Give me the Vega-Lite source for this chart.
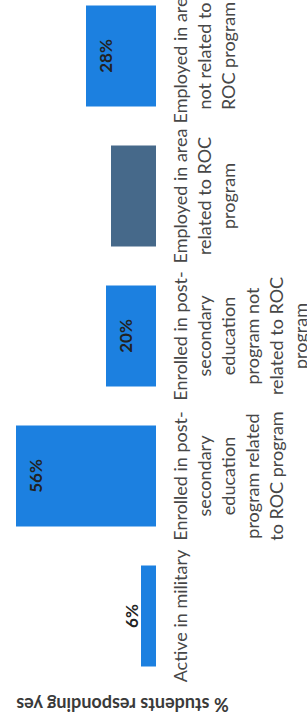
{
  "$schema": "https://vega.github.io/schema/vega-lite/v6.json",
  "autosize": "none",
  "width": 150,
  "height": 700,
  "padding": {"left": 6, "top": -14, "right": 151, "bottom": 33},
  "background": "white",
  "config": {"view": {"stroke": null}},
  "data": {
    "values": [
      {"cat": "Active in military", "value": 6, "label": "6%", "kind": "blue"},
      {"cat": "Enrolled in post-|secondary|education|program related|to ROC program", "value": 56, "label": "56%", "kind": "blue"},
      {"cat": "Enrolled in post-|secondary|education|program not|related to ROC|program", "value": 20, "label": "20%", "kind": "blue"},
      {"cat": "Employed in area|related to ROC|program", "value": 18, "label": "", "kind": "dark"},
      {"cat": "Employed in area|not related to|ROC program", "value": 28, "label": "28%", "kind": "blue"}
    ]
  },
  "encoding": {
    "y": {
      "field": "cat",
      "type": "nominal",
      "sort": [
        "Employed in area|not related to|ROC program",
        "Employed in area|related to ROC|program",
        "Enrolled in post-|secondary|education|program not|related to ROC|program",
        "Enrolled in post-|secondary|education|program related|to ROC program",
        "Active in military"
      ],
      "scale": {"paddingInner": 0.28, "paddingOuter": 0.14},
      "axis": {
        "orient": "right",
        "title": null,
        "domain": false,
        "ticks": false,
        "labelAngle": -90,
        "labelAlign": "center",
        "labelBaseline": "top",
        "labelPadding": 16,
        "labelFont": "Lato",
        "labelFontSize": 18,
        "labelLineHeight": 24,
        "labelColor": "#474747",
        "labelLimit": 0,
        "labelExpr": "split(datum.label, '|')"
      }
    },
    "x": {
      "field": "value",
      "type": "quantitative",
      "scale": {"domain": [0, 60], "reverse": true, "nice": false},
      "axis": {
        "orient": "bottom",
        "labels": false,
        "ticks": false,
        "domain": false,
        "grid": false,
        "title": "% students responding yes",
        "titleAngle": 180,
        "titleX": 116,
        "titleY": 16,
        "titleAlign": "center",
        "titleBaseline": "middle",
        "titleFont": "Lato",
        "titleFontSize": 18,
        "titleFontWeight": "bold",
        "titleColor": "#3a3a3a"
      }
    }
  },
  "layer": [
    {
      "mark": {"type": "bar"},
      "encoding": {
        "color": {
          "field": "kind",
          "type": "nominal",
          "scale": {"domain": ["blue", "dark"], "range": ["#1c80e0", "#46698a"]},
          "legend": null
        }
      }
    },
    {
      "transform": [{"filter": "datum.value >= 10"}],
      "mark": {"type": "text", "angle": -90, "align": "center", "baseline": "top", "dy": 13, "font": "Lato", "fontSize": 17, "fontWeight": "bold", "color": "#222222"},
      "encoding": {"text": {"field": "label"}}
    },
    {
      "transform": [{"filter": "datum.value < 10"}],
      "mark": {"type": "text", "angle": -90, "align": "center", "baseline": "bottom", "dy": 1, "font": "Lato", "fontSize": 17, "fontWeight": "bold", "color": "#222222"},
      "encoding": {"text": {"field": "label"}}
    }
  ]
}
